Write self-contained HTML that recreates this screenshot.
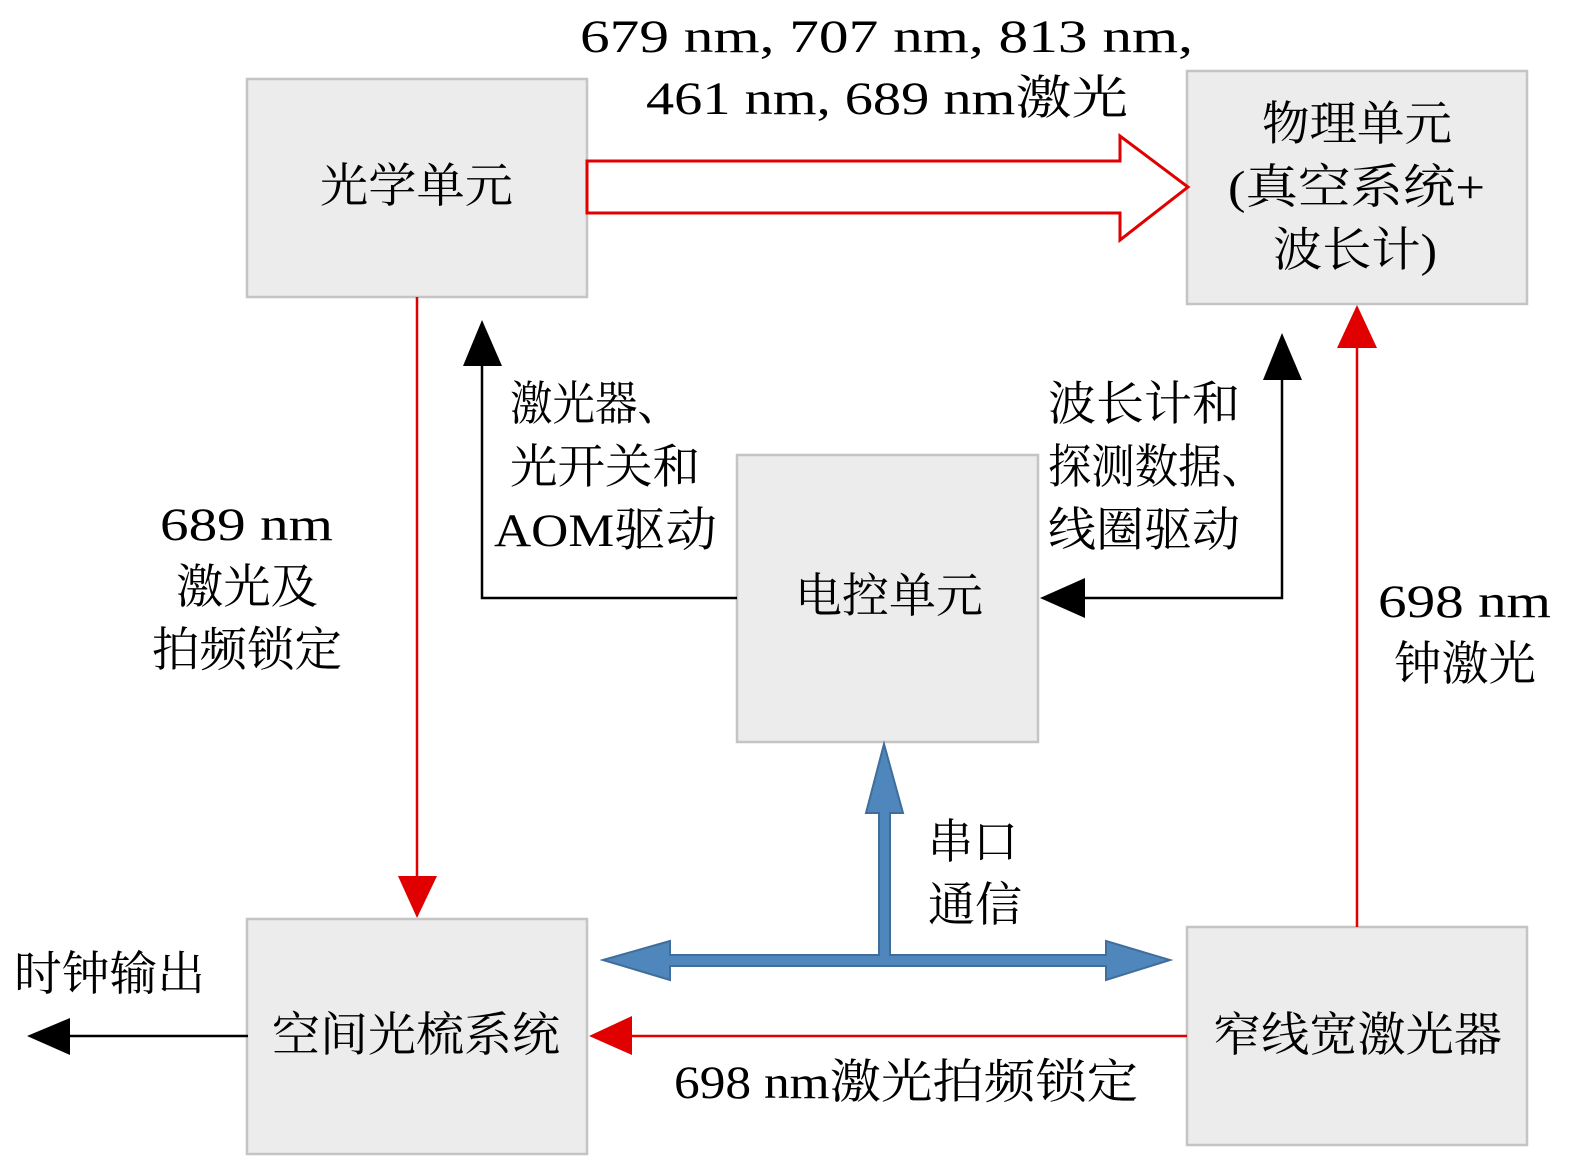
<!DOCTYPE html>
<html><head><meta charset="utf-8"><style>
body{margin:0;background:#fff}
svg text{font-family:"Liberation Serif","Noto Serif CJK SC",serif;font-size:47px;fill:#000}
</style></head><body>
<svg width="1575" height="1171" viewBox="0 0 1575 1171" xmlns="http://www.w3.org/2000/svg">
<g fill="#ececec" stroke="#c4c4c4" stroke-width="2.5">
<rect x="247" y="79" width="340" height="218"/>
<rect x="1187" y="71" width="340" height="233"/>
<rect x="737" y="455" width="301" height="287"/>
<rect x="247" y="919" width="340" height="235"/>
<rect x="1187" y="927" width="340" height="218"/>
</g>
<polygon points="587,161 1120,161 1120,136 1188,187 1120,240 1120,213 587,213" fill="#fff" stroke="#e00000" stroke-width="3"/>
<line x1="417" y1="297" x2="417" y2="878" stroke="#e00000" stroke-width="2.5"/>
<polygon points="398,876 437,876 417,918" fill="#e00000"/>
<line x1="1357" y1="927" x2="1357" y2="345" stroke="#e00000" stroke-width="2.5"/>
<polygon points="1337,348 1377,348 1357,305" fill="#e00000"/>
<line x1="1187" y1="1036" x2="630" y2="1036" stroke="#e00000" stroke-width="2.5"/>
<polygon points="632,1016 632,1055 589,1036" fill="#e00000"/>
<polyline points="737,598 482,598 482,362" fill="none" stroke="#000" stroke-width="2.5"/>
<polygon points="463,366 502,366 482,320" fill="#000"/>
<polyline points="1082,598 1282,598 1282,375" fill="none" stroke="#000" stroke-width="2.5"/>
<polygon points="1085,578 1085,618 1040,598" fill="#000"/>
<polygon points="1263,380 1302,380 1282,333" fill="#000"/>
<line x1="248" y1="1036" x2="68" y2="1036" stroke="#000" stroke-width="2.5"/>
<polygon points="70,1018 70,1055 27,1036" fill="#000"/>
<path d="M603,960 L670,941 L670,955 L879,955 L879,813 L866,813 L884,744 L903,813 L890,813 L890,955 L1106,955 L1106,941 L1170,960 L1106,980 L1106,966 L670,966 L670,980 Z" fill="#4f86bb" stroke="#3f6e9c" stroke-width="2"/>
<g lengthAdjust="spacingAndGlyphs">
<text x="320" y="202" textLength="193" lengthAdjust="spacingAndGlyphs">光学单元</text>
<text x="1262" y="140" textLength="190" lengthAdjust="spacingAndGlyphs">物理单元</text>
<text x="1228" y="203" textLength="257" lengthAdjust="spacingAndGlyphs">(真空系统+</text>
<text x="1273" y="266" textLength="164" lengthAdjust="spacingAndGlyphs">波长计)</text>
<text x="795" y="612" textLength="188" lengthAdjust="spacingAndGlyphs">电控单元</text>
<text x="272" y="1051" textLength="288" lengthAdjust="spacingAndGlyphs">空间光梳系统</text>
<text x="1213" y="1051" textLength="289" lengthAdjust="spacingAndGlyphs">窄线宽激光器</text>
<text x="580" y="52" textLength="613" lengthAdjust="spacingAndGlyphs">679 nm, 707 nm, 813 nm,</text>
<text x="646" y="114" textLength="482" lengthAdjust="spacingAndGlyphs">461 nm, 689 nm激光</text>
<text x="160" y="540" textLength="173" lengthAdjust="spacingAndGlyphs">689 nm</text>
<text x="176" y="603" textLength="142" lengthAdjust="spacingAndGlyphs">激光及</text>
<text x="152" y="666" textLength="190" lengthAdjust="spacingAndGlyphs">拍频锁定</text>
<text x="1378" y="617" textLength="173" lengthAdjust="spacingAndGlyphs">698 nm</text>
<text x="1394" y="680" textLength="142" lengthAdjust="spacingAndGlyphs">钟激光</text>
<text x="674" y="1098" textLength="464" lengthAdjust="spacingAndGlyphs">698 nm激光拍频锁定</text>
<text x="14" y="990" textLength="191" lengthAdjust="spacingAndGlyphs">时钟输出</text>
<text x="510" y="420" textLength="170" lengthAdjust="spacingAndGlyphs">激光器、</text>
<text x="510" y="483" textLength="190" lengthAdjust="spacingAndGlyphs">光开关和</text>
<text x="494" y="546" textLength="223" lengthAdjust="spacingAndGlyphs">AOM驱动</text>
<text x="1048" y="420" textLength="192" lengthAdjust="spacingAndGlyphs">波长计和</text>
<text x="1048" y="483" textLength="217" lengthAdjust="spacingAndGlyphs">探测数据、</text>
<text x="1048" y="546" textLength="192" lengthAdjust="spacingAndGlyphs">线圈驱动</text>
<text x="928" y="858" textLength="90" lengthAdjust="spacingAndGlyphs">串口</text>
<text x="928" y="921" textLength="94" lengthAdjust="spacingAndGlyphs">通信</text>
</g>
</svg>
</body></html>
